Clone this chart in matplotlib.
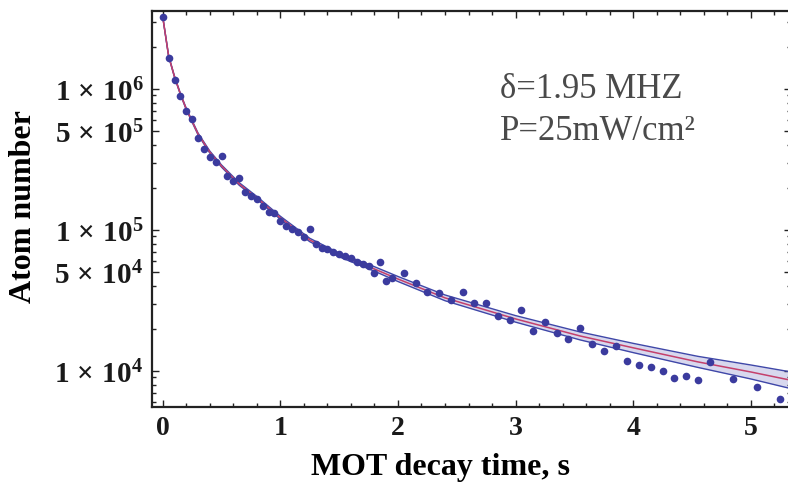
import matplotlib
matplotlib.use('Agg')
import matplotlib.pyplot as plt
from matplotlib.ticker import FixedLocator, MultipleLocator, LogLocator, NullFormatter

plt.rcParams['font.family'] = ['Liberation Serif', 'DejaVu Serif']
plt.rcParams['mathtext.fontset'] = 'custom'
plt.rcParams['mathtext.rm'] = 'Liberation Serif:bold'
plt.rcParams['mathtext.bf'] = 'Liberation Serif:bold'
plt.rcParams['mathtext.it'] = 'Liberation Serif:bold:italic'

# measured atom numbers
t = [0.00, 0.05, 0.10, 0.15, 0.20, 0.25, 0.30, 0.35, 0.40, 0.45,
     0.50, 0.55, 0.60, 0.65, 0.70, 0.75, 0.80, 0.85, 0.90, 0.95,
     1.00, 1.05, 1.10, 1.15, 1.20, 1.25, 1.30, 1.35, 1.40, 1.45,
     1.50, 1.55, 1.60, 1.65, 1.70, 1.75, 1.80, 1.85, 1.90, 1.95,
     2.05, 2.15, 2.25, 2.35, 2.45, 2.55, 2.65, 2.75, 2.85, 2.95,
     3.05, 3.15, 3.25, 3.35, 3.45, 3.55, 3.65, 3.75, 3.85, 3.95,
     4.05, 4.15, 4.25, 4.35, 4.45, 4.55, 4.65, 4.85, 5.05, 5.25]
n = [3.23e6, 1.65e6, 1.15e6, 8.96e5, 7.02e5, 6.13e5, 4.47e5, 3.75e5, 3.28e5, 3.02e5,
     3.37e5, 2.43e5, 2.24e5, 2.34e5, 1.87e5, 1.75e5, 1.66e5, 1.47e5, 1.34e5, 1.31e5,
     1.16e5, 1.06e5, 1.02e5, 9.73e4, 8.87e4, 1.02e5, 7.96e4, 7.45e4, 7.33e4, 6.95e4,
     6.76e4, 6.51e4, 6.33e4, 5.96e4, 5.74e4, 5.53e4, 4.96e4, 5.96e4, 4.35e4, 4.53e4,
     4.96e4, 4.21e4, 3.61e4, 3.56e4, 3.17e4, 3.61e4, 3.02e4, 3.04e4, 2.47e4, 2.30e4,
     2.71e4, 1.93e4, 2.21e4, 1.85e4, 1.69e4, 2.02e4, 1.55e4, 1.39e4, 1.51e4, 1.18e4,
     1.10e4, 1.07e4, 1.00e4, 8.96e3, 9.17e3, 8.64e3, 1.15e4, 8.78e3, 7.66e3, 6.33e3]

# fitted curve and its confidence band
fit_t = [0, 0.05, 0.1, 0.15, 0.2, 0.3, 0.4, 0.5, 0.65, 0.8, 1.0,
         1.25, 1.5, 1.8, 2.0, 2.4, 3.0, 3.55, 4.0, 4.55, 5.0, 5.34]
fit_n = [3.24e6, 1.71e6, 1.22e6, 9.22e5, 7.21e5, 4.80e5, 3.57e5, 2.84e5, 2.12e5, 1.69e5, 1.22e5,
         8.49e4, 6.65e4, 5.29e4, 4.49e4, 3.30e4, 2.34e4, 1.77e4, 1.46e4, 1.16e4, 9.84e3, 8.60e3]
fit_hi = [3.24e6, 1.72e6, 1.23e6, 9.31e5, 7.29e5, 4.87e5, 3.63e5, 2.89e5, 2.165e5, 1.729e5, 1.251e5,
          8.73e4, 6.86e4, 5.49e4, 4.68e4, 3.46e4, 2.47e4, 1.89e4, 1.57e4, 1.27e4, 1.103e4, 9.85e3]
fit_lo = [3.24e6, 1.70e6, 1.21e6, 9.13e5, 7.13e5, 4.73e5, 3.51e5, 2.79e5, 2.076e5, 1.652e5, 1.190e5,
          8.26e4, 6.45e4, 5.10e4, 4.31e4, 3.15e4, 2.22e4, 1.66e4, 1.35e4, 1.06e4, 8.78e3, 7.50e3]

yticks = [1e4, 5e4, 1e5, 5e5, 1e6]
ytick_labels = [r'$1\,\times\,10^{4}$', r'$5\,\times\,10^{4}$', r'$1\,\times\,10^{5}$',
                r'$5\,\times\,10^{5}$', r'$1\,\times\,10^{6}$']
xticks = [0, 1, 2, 3, 4, 5]
xtick_labels = ['0', '1', '2', '3', '4', '5']

W, H = 788, 485
fig = plt.figure(figsize=(W / 100, H / 100), dpi=100)
x0, x1, y0, y1 = 151.7, 791, 11.7, 407.7
ax = fig.add_axes([x0 / W, 1 - y1 / H, (x1 - x0) / W, (y1 - y0) / H])

ax.fill_between(fit_t, fit_lo, fit_hi, color='#d8d8ee', lw=0)
ax.plot(fit_t, fit_hi, color='#3f47a8', lw=1.0)
ax.plot(fit_t, fit_lo, color='#3f47a8', lw=1.0)
ax.plot(fit_t, fit_n, color='#c4406c', lw=1.1)
ax.plot(t, n, 'o', ms=5.5, color='#3b3b9e', mec='none')

ax.set_yscale('log')
ax.set_xlim(-0.094, 5.342)
ax.set_ylim(5580, 3.59e6)

ax.yaxis.set_major_locator(FixedLocator(yticks))
ax.set_yticklabels(ytick_labels)
ax.yaxis.set_minor_locator(LogLocator(base=10, subs=range(2, 10)))
ax.yaxis.set_minor_formatter(NullFormatter())
ax.set_xticks(xticks)
ax.set_xticklabels(xtick_labels, fontweight='bold')
ax.xaxis.set_minor_locator(MultipleLocator(0.2))

ax.tick_params(which='both', direction='in', top=True, right=True, width=1.0, color='#222222')
ax.tick_params(which='major', length=5)
ax.tick_params(which='minor', length=3)
ax.tick_params(axis='x', labelsize=20, pad=6, labelcolor='#1a1a1a')
ax.tick_params(axis='y', labelsize=21, pad=6, labelcolor='#1a1a1a')
for s in ax.spines.values():
    s.set_linewidth(1.6)
    s.set_color('#222222')

fig.text(440.5 / W, 1 - 468 / H, 'MOT decay time, s', fontsize=23, fontweight='bold',
         ha='center', va='center')
fig.text(24 / W, 1 - 206.5 / H, 'Atom number', fontsize=23, fontweight='bold',
         ha='center', va='center', rotation=90)

ax.text(0.545, 0.781, 'δ=1.95 MHZ', transform=ax.transAxes, fontsize=25,
        color='#4a4a4a', va='baseline', ha='left')
ax.text(0.545, 0.676, 'P=25mW/cm²', transform=ax.transAxes, fontsize=25,
        color='#4a4a4a', va='baseline', ha='left')

fig.savefig('out.png', dpi=100)
